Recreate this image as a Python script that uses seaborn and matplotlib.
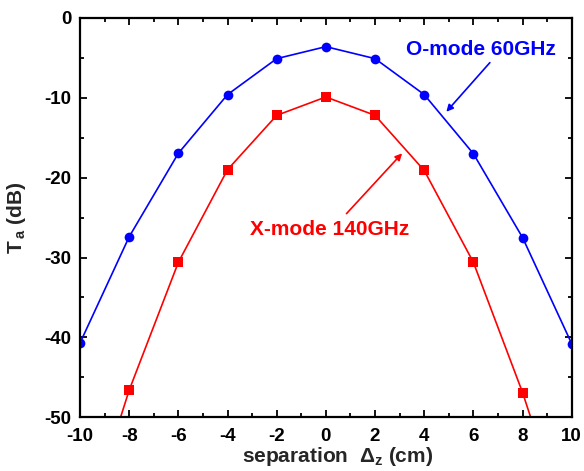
import matplotlib
matplotlib.use("Agg")
import matplotlib.pyplot as plt
from matplotlib.ticker import MultipleLocator
import pandas as pd
import seaborn as sns

# separation (cm)
separation = [-10, -8, -6, -4, -2, 0, 2, 4, 6, 8, 10]
# attenuation (dB)
o_mode_60ghz = [-40.7, -27.4, -16.95, -9.6, -5.1, -3.6, -5.1, -9.6, -17.0, -27.5, -40.8]
x_mode_140ghz = [-66.0, -46.6, -30.6, -19.0, -12.2, -9.9, -12.2, -19.1, -30.6, -46.9, -65.7]

x_ticks = [-10, -8, -6, -4, -2, 0, 2, 4, 6, 8, 10]
y_ticks = [0, -10, -20, -30, -40, -50]

sns.set_style("ticks")
plt.rcParams["font.family"] = ["Liberation Sans", "DejaVu Sans"]
plt.rcParams["font.weight"] = "bold"
plt.rcParams["axes.unicode_minus"] = False
plt.rcParams["mathtext.fontset"] = "custom"
plt.rcParams["mathtext.rm"] = "Liberation Sans:bold"
plt.rcParams["mathtext.it"] = "Liberation Sans:bold"
plt.rcParams["mathtext.bf"] = "Liberation Sans:bold"

df_o = pd.DataFrame({"sep": separation, "Ta": o_mode_60ghz})
df_x = pd.DataFrame({"sep": separation, "Ta": x_mode_140ghz})

fig = plt.figure(figsize=(5.84, 4.71), dpi=100)
ax = fig.add_axes([0.137, 0.114, 0.842, 0.848])

blue = "#0000ff"
red = "#ff0000"
sns.lineplot(data=df_o, x="sep", y="Ta", ax=ax, color=blue, lw=1.2,
             marker="o", markersize=7, markeredgewidth=0, markeredgecolor=blue)
sns.lineplot(data=df_x, x="sep", y="Ta", ax=ax, color=red, lw=1.2,
             marker="s", markersize=6.5, markeredgewidth=0, markeredgecolor=red)

ax.set_xlim(-10, 10)
ax.set_ylim(-50, 0)
ax.set_xticks(x_ticks)
ax.set_yticks(y_ticks)
ax.xaxis.set_minor_locator(MultipleLocator(1))
ax.yaxis.set_minor_locator(MultipleLocator(5))
ax.tick_params(which="both", direction="in", top=True, right=True, width=1.3,
               labelsize=13.5, colors="black")
ax.tick_params(which="major", length=5)
ax.tick_params(which="minor", length=3)
ax.tick_params(axis="x", which="major", pad=8)
ax.tick_params(axis="y", which="major", pad=6)
for lab in ax.get_xticklabels() + ax.get_yticklabels():
    lab.set_fontweight("bold")
for sp in ax.spines.values():
    sp.set_linewidth(1.6)
    sp.set_color("black")

ax.set_xlabel("separation  Δ$_{z}$ (cm)", fontsize=15, fontweight="bold")
ax.set_ylabel("T$_{\\,a}$ (dB)", fontsize=15, fontweight="bold")
ax.xaxis.set_label_coords(0.524, -0.07)
ax.yaxis.set_label_coords(-0.106, 0.5)

ax.text(6.3, -3.95, "O-mode 60GHz", color=blue, fontsize=15, fontweight="bold",
        ha="center", va="center")
ax.annotate("", xy=(4.9, -11.75), xytext=(6.67, -5.6),
            arrowprops=dict(arrowstyle="-|>", color=blue, lw=1.2,
                            mutation_scale=10, shrinkA=0, shrinkB=0))

ax.text(0.16, -26.5, "X-mode 140GHz", color=red, fontsize=15, fontweight="bold",
        ha="center", va="center")
ax.annotate("", xy=(3.1, -16.95), xytext=(0.84, -24.5),
            arrowprops=dict(arrowstyle="-|>", color=red, lw=1.2,
                            mutation_scale=10, shrinkA=0, shrinkB=0))

fig.savefig("out.png", dpi=100)
